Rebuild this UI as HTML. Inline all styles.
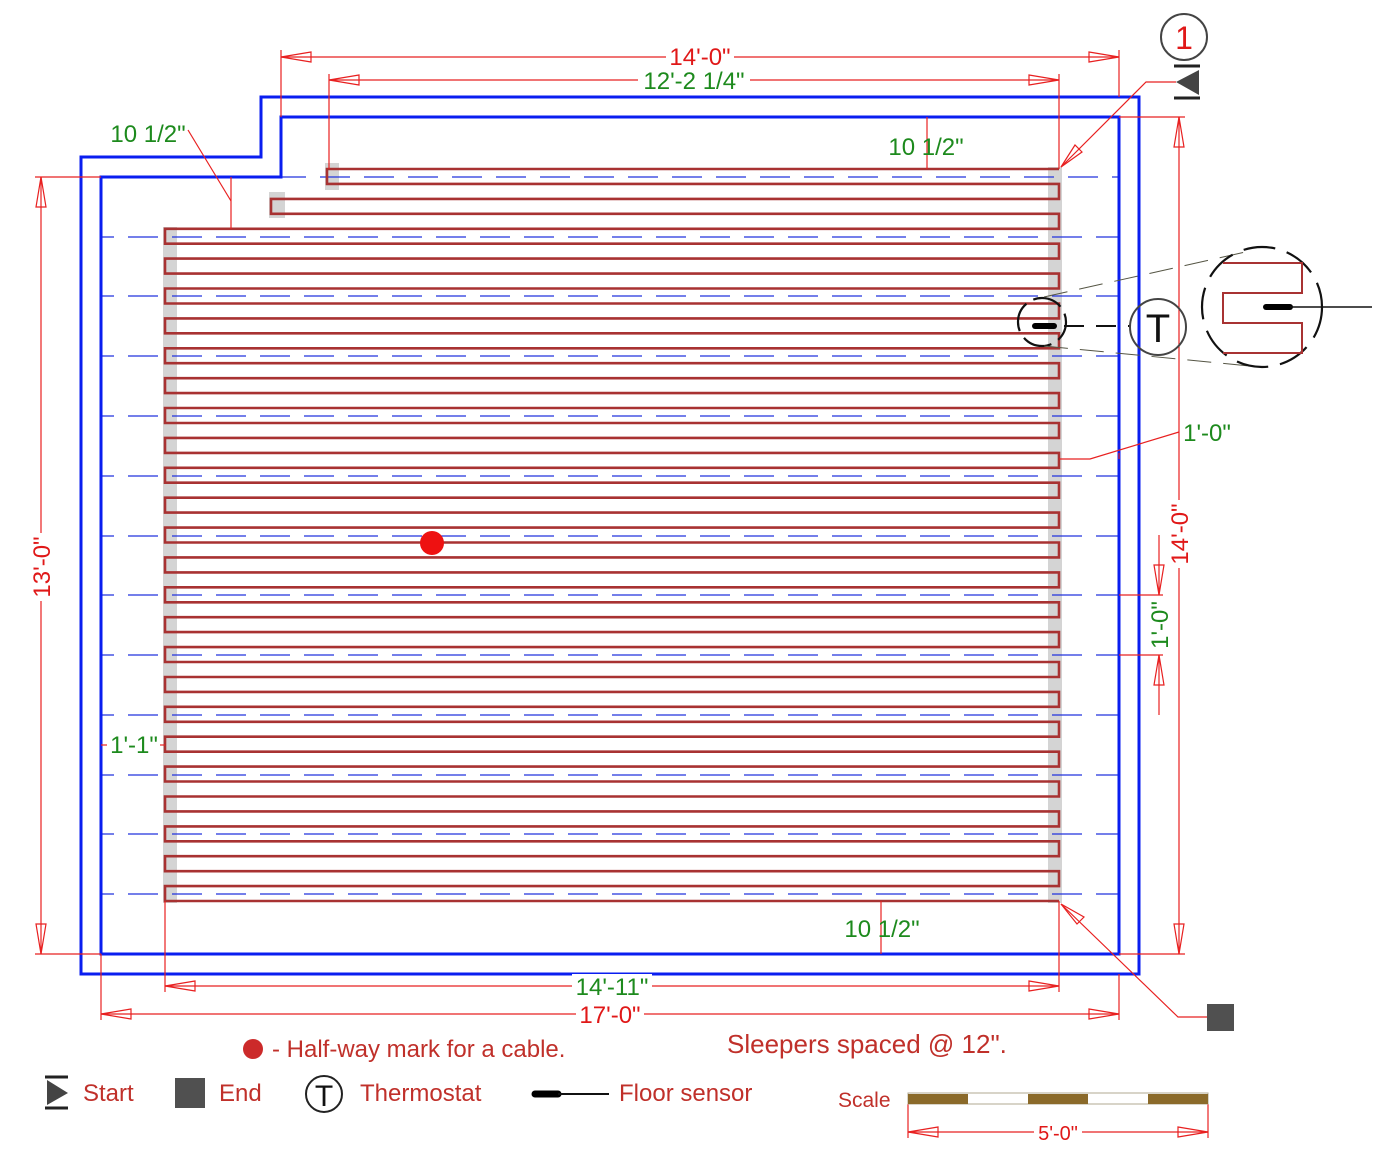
<!DOCTYPE html>
<html><head><meta charset="utf-8"><style>
html,body{margin:0;padding:0;background:#fff}
svg{display:block}
text{font-family:"Liberation Sans",sans-serif}
</style></head><body>
<svg width="1400" height="1157" viewBox="0 0 1400 1157" xmlns="http://www.w3.org/2000/svg">
<rect width="1400" height="1157" fill="#fff"/>
<g fill="#d4d4d4">
<rect x="163" y="227" width="14" height="676"/>
<rect x="1048" y="167" width="14" height="736"/>
<rect x="325" y="163" width="14" height="27"/>
<rect x="269" y="192" width="16" height="26"/>
</g>
<g stroke="#2233dd" stroke-width="1.3" stroke-dasharray="30 14" stroke-dashoffset="17" fill="none">
<line x1="281" y1="177" x2="1119" y2="177" stroke-dashoffset="5"/>
<line x1="101" y1="237" x2="1119" y2="237"/>
<line x1="101" y1="296" x2="1119" y2="296"/>
<line x1="101" y1="356" x2="1119" y2="356"/>
<line x1="101" y1="416" x2="1119" y2="416"/>
<line x1="101" y1="476" x2="1119" y2="476"/>
<line x1="101" y1="536" x2="1119" y2="536"/>
<line x1="101" y1="595" x2="1119" y2="595"/>
<line x1="101" y1="655" x2="1119" y2="655"/>
<line x1="101" y1="715" x2="1119" y2="715"/>
<line x1="101" y1="775" x2="1119" y2="775"/>
<line x1="101" y1="834" x2="1119" y2="834"/>
<line x1="101" y1="894" x2="1119" y2="894"/>
</g>
<path fill="none" stroke="#a83232" stroke-width="2.6" d="M1059,169 H327 V183.9 H1059 V198.9 H271 V213.8 H1059 V228.8 H165 V243.7 H1059 V258.6 H165 V273.6 H1059 V288.5 H165 V303.5 H1059 V318.4 H165 V333.3 H1059 V348.3 H165 V363.2 H1059 V378.2 H165 V393.1 H1059 V408 H165 V423 H1059 V437.9 H165 V452.9 H1059 V467.8 H165 V482.7 H1059 V497.7 H165 V512.6 H1059 V527.6 H165 V542.5 H1059 V557.4 H165 V572.4 H1059 V587.3 H165 V602.3 H1059 V617.2 H165 V632.1 H1059 V647.1 H165 V662 H1059 V677 H165 V691.9 H1059 V706.8 H165 V721.8 H1059 V736.7 H165 V751.7 H1059 V766.6 H165 V781.5 H1059 V796.5 H165 V811.4 H1059 V826.4 H165 V841.3 H1059 V856.2 H165 V871.2 H1059 V886.1 H165 V901 H1059"/>
<g fill="none" stroke="#0a1ef0" stroke-width="3">
<path d="M81,974 V157 H261 V97 H1139 V974 Z"/>
<path d="M101,954 V177 H281 V117 H1119 V954 Z"/>
</g>
<g stroke="#e82020" stroke-width="1.2" fill="none">
<line x1="281" y1="117" x2="281" y2="50"/><line x1="1119" y1="97" x2="1119" y2="50"/>
<line x1="281" y1="57" x2="1119" y2="57"/>
<path d="M281,57 L311,52 L311,62 Z M1119,57 L1089,52 L1089,62 Z"/>
<line x1="329" y1="169" x2="329" y2="74"/><line x1="1059" y1="169" x2="1059" y2="74"/>
<line x1="329" y1="80" x2="1059" y2="80"/>
<path d="M329,80 L359,75 L359,85 Z M1059,80 L1029,75 L1029,85 Z"/>
<line x1="35" y1="177" x2="101" y2="177"/><line x1="35" y1="954" x2="101" y2="954"/>
<line x1="41" y1="177" x2="41" y2="954"/>
<path d="M41,177 L36,207 L46,207 Z M41,954 L36,924 L46,924 Z"/>
<line x1="1119" y1="117" x2="1185" y2="117"/><line x1="1119" y1="954" x2="1185" y2="954"/>
<line x1="1179" y1="117" x2="1179" y2="954"/>
<path d="M1179,117 L1174,147 L1184,147 Z M1179,954 L1174,924 L1184,924 Z"/>
<line x1="1119" y1="595" x2="1163" y2="595"/><line x1="1119" y1="655" x2="1163" y2="655"/>
<line x1="1159" y1="535" x2="1159" y2="595"/><line x1="1159" y1="655" x2="1159" y2="715"/>
<path d="M1159,595 L1154,565 L1164,565 Z M1159,655 L1154,685 L1164,685 Z"/>
<line x1="165" y1="901" x2="165" y2="992"/><line x1="1059" y1="901" x2="1059" y2="992"/>
<line x1="165" y1="986" x2="1059" y2="986"/>
<path d="M165,986 L195,981 L195,991 Z M1059,986 L1029,981 L1029,991 Z"/>
<line x1="101" y1="954" x2="101" y2="1020"/><line x1="1119" y1="974" x2="1119" y2="1020"/>
<line x1="101" y1="1014" x2="1119" y2="1014"/>
<path d="M101,1014 L131,1009 L131,1019 Z M1119,1014 L1089,1009 L1089,1019 Z"/>
<line x1="927" y1="117" x2="927" y2="169"/>
<line x1="881" y1="901" x2="881" y2="954"/>
<line x1="231" y1="177" x2="231" y2="229"/>
<line x1="231" y1="201" x2="188" y2="130"/>
<polyline points="1059,459 1090,459 1179,432"/>
<line x1="1119" y1="453" x2="1119" y2="459"/>
<line x1="101" y1="745" x2="107" y2="745"/><line x1="160" y1="745" x2="165" y2="745"/>
<polyline points="1176,82 1146,82 1061,167"/>
<path d="M1061,167 L1075,145 L1082,152 Z"/>
<polyline points="1207,1017 1178,1017 1061,904"/>
<path d="M1061,904 L1077,924 L1084,917 Z"/>
<line x1="908" y1="1104" x2="908" y2="1138"/><line x1="1208" y1="1104" x2="1208" y2="1138"/>
<line x1="908" y1="1132" x2="1208" y2="1132"/>
<path d="M908,1132 L938,1127 L938,1137 Z M1208,1132 L1178,1127 L1178,1137 Z"/>
</g>
<g font-size="24" text-anchor="middle">
<rect x="666" y="44" width="68" height="24" fill="#fff"/>
<text x="700" y="65" fill="#e01818">14'-0"</text>
<rect x="638" y="68" width="112" height="24" fill="#fff"/>
<text x="694" y="89" fill="#1d8a1d">12'-2 1/4"</text>
<text x="148" y="142" fill="#1d8a1d">10 1/2"</text>
<text x="926" y="155" fill="#1d8a1d">10 1/2"</text>
<text x="882" y="937" fill="#1d8a1d">10 1/2"</text>
<text x="1207" y="441" fill="#1d8a1d">1'-0"</text>
<rect x="572" y="974" width="80" height="24" fill="#fff"/>
<text x="612" y="995" fill="#1d8a1d">14'-11"</text>
<rect x="576" y="1002" width="68" height="24" fill="#fff"/>
<text x="610" y="1023" fill="#e01818">17'-0"</text>
<rect x="107" y="733" width="53" height="24" fill="#fff"/>
<text x="134" y="753" fill="#1d8a1d">1'-1"</text>
<rect x="29" y="533" width="24" height="68" fill="#fff"/>
<text transform="translate(50,567) rotate(-90)" fill="#e01818">13'-0"</text>
<rect x="1167" y="500" width="24" height="68" fill="#fff"/>
<text transform="translate(1188,534) rotate(-90)" fill="#e01818">14'-0"</text>
<text transform="translate(1168,625) rotate(-90)" fill="#1d8a1d">1'-0"</text>
</g>
<circle cx="432" cy="543" r="12" fill="#ee1111"/>
<circle cx="1184" cy="37" r="23" fill="none" stroke="#444" stroke-width="2"/>
<text x="1184" y="49" font-size="32" fill="#e01818" text-anchor="middle">1</text>
<line x1="1174" y1="66" x2="1200" y2="66" stroke="#222" stroke-width="3"/>
<line x1="1174" y1="98" x2="1200" y2="98" stroke="#222" stroke-width="3"/>
<path d="M1176,82 L1199,70 L1199,95 Z" fill="#444"/>
<rect x="1207" y="1004" width="27" height="27" fill="#505050"/>
<g fill="none">
<circle cx="1042" cy="322" r="24" stroke="#111" stroke-width="2.2" stroke-dasharray="30 8" stroke-dashoffset="10"/>
<line x1="1035" y1="326" x2="1054" y2="326" stroke="#000" stroke-width="6" stroke-linecap="round"/>
<line x1="1054" y1="326" x2="1130" y2="326" stroke="#111" stroke-width="2" stroke-dasharray="20 12" stroke-dashoffset="-10"/>
<circle cx="1158" cy="327" r="28" stroke="#444" stroke-width="2"/>
<line x1="1044" y1="297" x2="1250" y2="251" stroke="#554" stroke-width="1" stroke-dasharray="24 12"/>
<line x1="1044" y1="346" x2="1250" y2="366" stroke="#554" stroke-width="1" stroke-dasharray="24 12"/>
<circle cx="1262" cy="307" r="60" stroke="#111" stroke-width="2.2" stroke-dasharray="32 12"/>
<path d="M1223,263 H1302 V293 H1223 V323 H1302 V353 H1223" stroke="#a83232" stroke-width="2"/>
<line x1="1266" y1="307" x2="1290" y2="307" stroke="#000" stroke-width="6" stroke-linecap="round"/>
<line x1="1290" y1="307" x2="1372" y2="307" stroke="#111" stroke-width="1.5"/>
</g>
<text x="1158" y="342" font-size="40" text-anchor="middle" fill="#111">T</text>
<g fill="#c0302a" font-size="24">
<circle cx="253" cy="1049" r="10" fill="#cc2a2a"/>
<text x="272" y="1057">- Half-way mark for a cable.</text>
<text x="727" y="1053" font-size="26">Sleepers spaced @ 12".</text>
<text x="83" y="1101">Start</text>
<text x="219" y="1101">End</text>
<text x="360" y="1101">Thermostat</text>
<text x="619" y="1101">Floor sensor</text>
<text x="838" y="1107" font-size="21">Scale</text>
</g>
<line x1="45" y1="1077" x2="68" y2="1077" stroke="#222" stroke-width="3"/>
<line x1="45" y1="1108" x2="68" y2="1108" stroke="#222" stroke-width="3"/>
<path d="M47,1080 L68,1093 L47,1105 Z" fill="#444"/>
<rect x="175" y="1078" width="30" height="30" fill="#505050"/>
<circle cx="324" cy="1094" r="18" fill="none" stroke="#222" stroke-width="2"/>
<text x="324" y="1106" font-size="30" text-anchor="middle" fill="#111">T</text>
<line x1="535" y1="1094" x2="558" y2="1094" stroke="#000" stroke-width="7" stroke-linecap="round"/>
<line x1="558" y1="1094" x2="609" y2="1094" stroke="#111" stroke-width="2"/>
<rect x="908" y="1093" width="300" height="11" fill="#fff" stroke="#b0a890" stroke-width="1"/>
<g fill="#8b6a2a">
<rect x="908" y="1094" width="60" height="10"/>
<rect x="1028" y="1094" width="60" height="10"/>
<rect x="1148" y="1094" width="60" height="10"/>
</g>
<rect x="1034" y="1122" width="48" height="20" fill="#fff"/>
<text x="1058" y="1140" font-size="20" fill="#e01818" text-anchor="middle">5'-0"</text>
</svg>
</body></html>
